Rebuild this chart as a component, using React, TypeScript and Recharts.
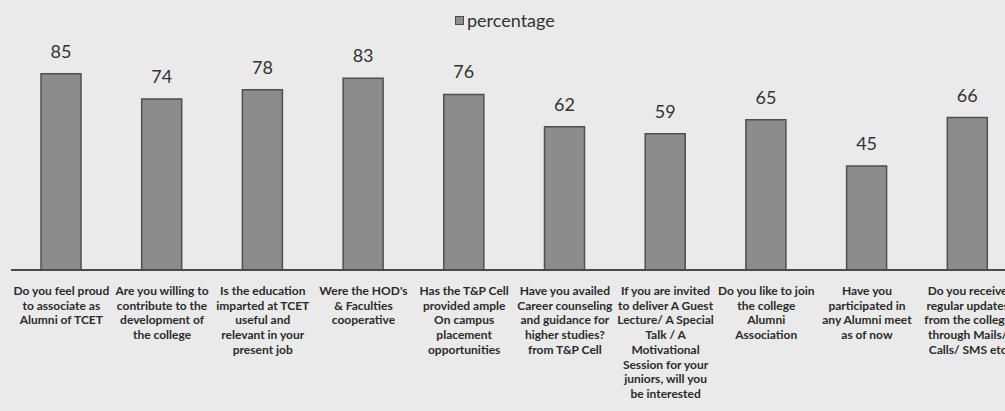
import React from 'react';
import { BarChart, Bar, XAxis, YAxis, LabelList, Legend } from 'recharts';

const seriesName = 'percentage';

const categoryLines: string[][] = [
  ['Do you feel proud', 'to associate as', 'Alumni of TCET'],
  ['Are you willing to', 'contribute to the', 'development of', 'the college'],
  ['Is the education', 'imparted at TCET', 'useful and', 'relevant in your', 'present job'],
  ["Were the HOD's", '& Faculties', 'cooperative'],
  ['Has the T&P Cell', 'provided ample', 'On campus', 'placement', 'opportunities'],
  ['Have you availed', 'Career counseling', 'and guidance for', 'higher studies?', 'from T&P Cell'],
  ['If you are invited', 'to deliver A Guest', 'Lecture/ A Special', 'Talk / A', 'Motivational', 'Session for your', 'juniors, will you', 'be interested'],
  ['Do you like to join', 'the college', 'Alumni', 'Association'],
  ['Have you', 'participated in', 'any Alumni meet', 'as of now'],
  ['Do you receive', 'regular updates', 'from the college', 'through Mails/', 'Calls/ SMS etc'],
];

const percentageValues: number[] = [85, 74, 78, 83, 76, 62, 59, 65, 45, 66];

const yDomain: [number, number] = [0, 100];

const data = categoryLines.map((lines, i) => ({
  name: lines.join(' '),
  percentage: percentageValues[i],
}));

const lineMap: Record<string, string[]> = {};
categoryLines.forEach((lines) => {
  lineMap[lines.join(' ')] = lines;
});

const FONT = 'Lato, "Open Sans", sans-serif';

const CategoryTick = (props: any) => {
  const { x, y, payload } = props;
  const lines = lineMap[payload.value] || [String(payload.value)];
  return (
    <text
      x={x}
      y={y}
      textAnchor="middle"
      fontFamily={FONT}
      fontWeight={700}
      fontSize={12}
      fill="#2a2a2a"
    >
      {lines.map((l, i) => (
        <tspan key={i} x={x} dy={i === 0 ? 25 : 14.7}>
          {l}
        </tspan>
      ))}
    </text>
  );
};

const LegendContent = (props: any) => {
  const items = props.payload || [];
  return (
    <div style={{ display: 'flex', alignItems: 'center', fontFamily: FONT }}>
      {items.map((it: any, i: number) => (
        <div key={i} style={{ display: 'flex', alignItems: 'center' }}>
          <span
            style={{
              display: 'inline-block',
              width: 7,
              height: 7,
              background: '#8e8e8e',
              border: '1px solid #4a4a4a',
              marginRight: 3,
            }}
          />
          <span style={{ fontSize: 18, color: '#333', lineHeight: '24px' }}>{it.value}</span>
        </div>
      ))}
    </div>
  );
};

export default function App() {
  return (
    <div
      style={{
        position: 'fixed',
        left: 0,
        top: 0,
        width: 1005,
        height: 411,
        overflow: 'hidden',
        background: '#eaeaea',
      }}
    >
      <BarChart
        width={1030}
        height={411}
        data={data}
        margin={{ top: 39, right: 12, left: 11, bottom: 0 }}
      >
        <XAxis
          dataKey="name"
          height={141}
          interval={0}
          tickLine={false}
          tickSize={0}
          tickMargin={0}
          axisLine={{ stroke: '#4a4a4a', strokeWidth: 2 }}
          tick={<CategoryTick />}
        />
        <YAxis hide domain={yDomain} />
        <Legend
          layout="horizontal"
          verticalAlign="middle"
          align="center"
          content={<LegendContent />}
          wrapperStyle={{ top: 8, left: 455, width: 180, height: 24 }}
        />
        <Bar
          dataKey="percentage"
          name={seriesName}
          fill="#8c8c8c"
          stroke="#4f4f4f"
          strokeWidth={1.5}
          barSize={40}
          isAnimationActive={false}
        >
          <LabelList
            dataKey="percentage"
            position="top"
            offset={16}
            fill="#333"
            fontSize={18}
            fontFamily={FONT}
          />
        </Bar>
      </BarChart>
    </div>
  );
}
